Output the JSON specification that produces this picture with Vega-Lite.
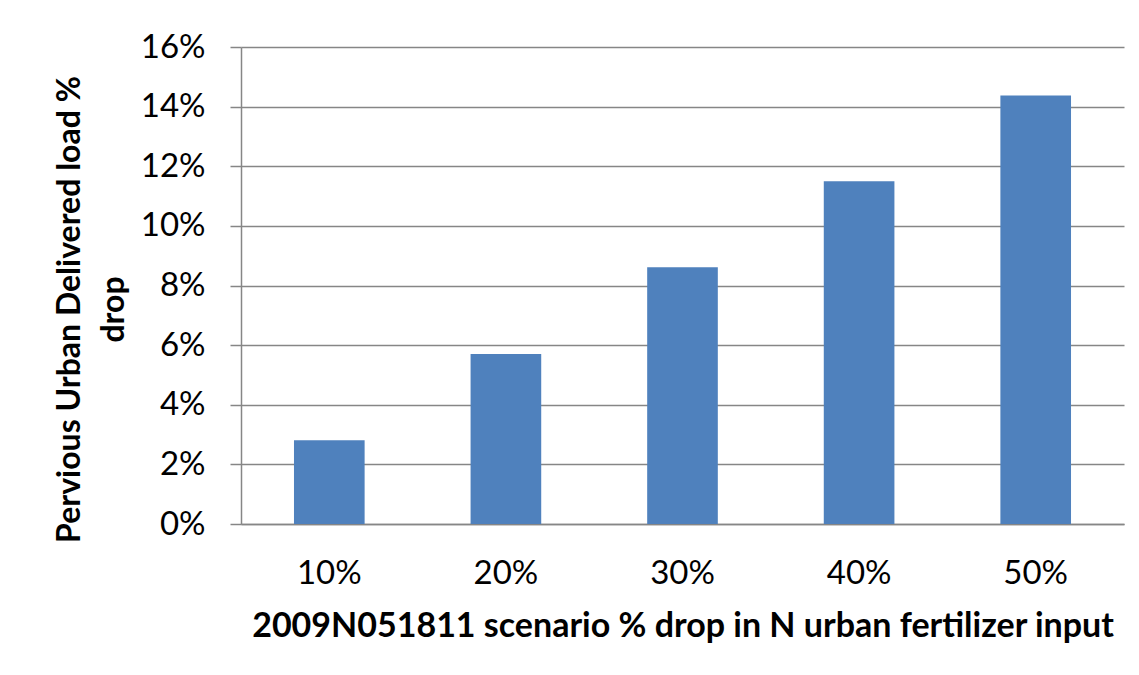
{
  "$schema": "https://vega.github.io/schema/vega-lite/v6.json",
  "width": 883,
  "height": 477,
  "autosize": {"type": "none"},
  "padding": {"left": 241, "top": 47, "right": 15, "bottom": 151},
  "background": "white",
  "data": {
    "values": [
      {"scenario": "10%", "drop": 0.0281},
      {"scenario": "20%", "drop": 0.0570},
      {"scenario": "30%", "drop": 0.0861},
      {"scenario": "40%", "drop": 0.1150},
      {"scenario": "50%", "drop": 0.1437}
    ]
  },
  "mark": {"type": "bar", "color": "#4F81BD"},
  "encoding": {
    "x": {
      "field": "scenario",
      "type": "nominal",
      "sort": null,
      "scale": {"paddingInner": 0.6, "paddingOuter": 0.3},
      "axis": {
        "title": "2009N051811 scenario % drop in N urban fertilizer input",
        "labelAngle": 0,
        "ticks": false,
        "tickSize": 0,
        "labelBaseline": "alphabetic",
        "labelPadding": 59,
        "labelFont": "Lato",
        "labelFontSize": 33,
        "labelColor": "#000000",
        "titleFont": "Lato",
        "titleFontSize": 34,
        "titleFontWeight": "bold",
        "titleColor": "#000000",
        "titleBaseline": "alphabetic",
        "titleY": 112,
        "domainColor": "#868686",
        "domainWidth": 1.5
      }
    },
    "y": {
      "field": "drop",
      "type": "quantitative",
      "scale": {"domain": [0, 0.16], "nice": false},
      "axis": {
        "title": ["Pervious Urban Delivered load %", "drop"],
        "values": [0, 0.02, 0.04, 0.06, 0.08, 0.1, 0.12, 0.14, 0.16],
        "format": ".0%",
        "grid": true,
        "gridColor": "#868686",
        "gridWidth": 1.5,
        "tickColor": "#868686",
        "tickSize": 11,
        "tickWidth": 1.5,
        "domainColor": "#868686",
        "domainWidth": 1.5,
        "labelPadding": 25,
        "labelFont": "Lato",
        "labelFontSize": 33,
        "labelColor": "#000000",
        "titleFont": "Lato",
        "titleFontSize": 32,
        "titleFontWeight": "bold",
        "titleColor": "#000000",
        "titleAngle": -90,
        "titleAlign": "center",
        "titleBaseline": "alphabetic",
        "titleX": -162,
        "titleY": 262,
        "titleLineHeight": 44
      }
    }
  },
  "config": {"view": {"stroke": null}}
}
